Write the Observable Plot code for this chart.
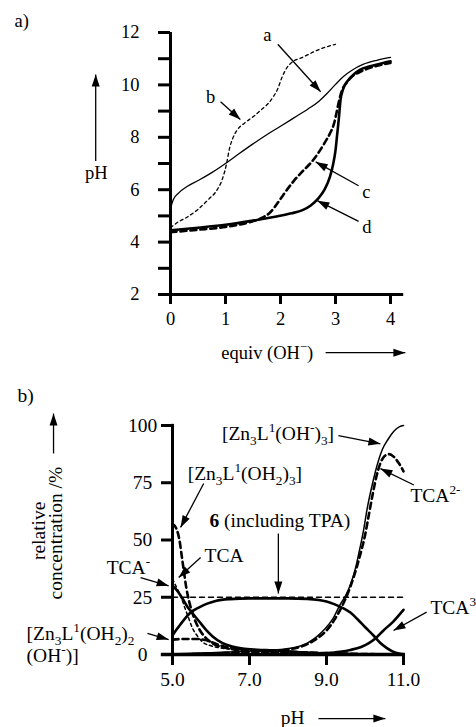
<!DOCTYPE html>
<html><head><meta charset="utf-8">
<script src="https://cdn.jsdelivr.net/npm/d3@7"></script>
<script src="https://cdn.jsdelivr.net/npm/@observablehq/plot@0.6"></script>
<style>
body{margin:0;background:#fff;}
#chart{width:476px;height:727px;overflow:hidden;position:relative;}
#chart svg{display:block;font-family:"Liberation Serif","Times New Roman",serif !important;}
#chart svg text{font-family:"Liberation Serif","Times New Roman",serif !important;}
#chart svg.pa{font-size:18.5px !important;}
#chart svg.pb{font-size:19.5px !important;}
</style></head><body><div id="chart"></div>
<script>
// ---------- Panel a: titration curves (x: equiv OH-, y: pH) ----------
const ticksAX = [0, 1, 2, 3, 4];
const ticksAY = [2, 4, 6, 8, 10, 12];
const minorAY = [3, 5, 7, 9, 11];
const curveA = [[0,5.28],[0.05,5.62],[0.15,5.88],[0.3,6.12],[0.5,6.35],[0.75,6.65],[1.0,7.0],[1.25,7.38],[1.5,7.75],[1.75,8.1],[2.0,8.42],[2.25,8.75],[2.5,9.08],[2.7,9.38],[2.85,9.68],[3.0,10.02],[3.15,10.33],[3.3,10.56],[3.5,10.78],[3.75,10.94],[4.0,11.05]];
const curveB = [[0,4.55],[0.15,4.78],[0.3,4.95],[0.5,5.25],[0.7,5.65],[0.85,6.0],[0.95,6.45],[1.02,7.0],[1.07,7.55],[1.13,7.95],[1.22,8.3],[1.35,8.55],[1.5,8.78],[1.65,9.05],[1.78,9.3],[1.87,9.55],[1.95,9.85],[2.02,10.25],[2.1,10.6],[2.2,10.85],[2.4,11.05],[2.7,11.35],[3.0,11.55]];
const curveC = [[0,4.38],[0.5,4.47],[1.0,4.58],[1.4,4.74],[1.64,4.9],[1.82,5.15],[1.95,5.5],[2.05,5.8],[2.24,6.33],[2.4,6.7],[2.55,7.02],[2.68,7.38],[2.8,7.78],[2.9,8.15],[2.97,8.5],[3.02,8.95],[3.06,9.35],[3.12,9.8],[3.2,10.08],[3.3,10.32],[3.45,10.5],[3.6,10.63],[3.8,10.75],[4.0,10.84]];
const curveD = [[0,4.45],[0.5,4.55],[1.0,4.66],[1.5,4.82],[1.9,4.97],[2.2,5.1],[2.4,5.22],[2.55,5.4],[2.68,5.65],[2.8,6.0],[2.9,6.5],[2.96,7.0],[3.0,7.5],[3.03,8.1],[3.06,8.7],[3.09,9.4],[3.14,9.85],[3.22,10.15],[3.33,10.4],[3.45,10.58],[3.65,10.72],[3.85,10.83],[4.0,10.9]];

// ---------- Panel b: species distribution (x: pH, y: relative concentration %) ----------
const ticksBX = [5, 7, 9, 11];
const ticksBY = [0, 25, 50, 75, 100];
const sTcaMinus = [[5,30],[5.1,28.3],[5.2,26],[5.3,23.3],[5.4,20.5],[5.52,18],[5.7,14.3],[5.86,11],[6.05,7.8],[6.3,5],[6.55,3.5],[6.82,2.6],[7.2,2.1],[7.6,1.8],[8,1.4],[8.5,0.8],[9,0.4],[10,0.1],[11,0]];
const sCpd6 = [[5,8.3],[5.1,10.8],[5.2,13],[5.34,16],[5.45,18],[5.55,19.3],[5.68,20.5],[5.9,22.2],[6.12,23.4],[6.5,24.2],[7,24.5],[8,24.5],[8.5,24.3],[8.8,23.8],[9.0,23.1],[9.2,22],[9.4,20.5],[9.62,18.3],[9.8,15.5],[10,12],[10.22,8.3],[10.4,5],[10.55,3],[10.7,1.5],[10.85,0.5],[11,0.1]];
const sTca = [[5,33],[5.1,29.5],[5.2,26],[5.34,19.5],[5.45,14.5],[5.52,11.5],[5.65,8],[5.78,5.5],[6.0,3.8],[6.2,3],[6.6,2.3],[7,1.8],[7.5,1.2],[8,0.6],[9,0.2],[11,0]];
const sZnOH2x3 = [[5,57],[5.1,55],[5.18,50],[5.24,43],[5.29,37],[5.36,29],[5.45,22],[5.55,16.5],[5.68,11.5],[5.85,7.5],[6.05,4.8],[6.4,2.8],[7,1.5],[8,0.6],[9,0.2],[11,0]];
const sZnOH2x2OH = [[5,6.5],[5.3,6.8],[5.6,6.8],[5.85,6.3],[6.0,5.5],[6.2,4.2],[6.5,3],[7,2],[7.5,1.5],[8,1.2],[9,0.6],[10,0.2],[11,0]];
const sZnOHx3 = [[5,0.2],[6,0.8],[6.8,1.3],[7.3,1.7],[7.8,2.2],[8.2,3.2],[8.5,5],[8.75,7.8],[8.95,11],[9.18,16],[9.36,22],[9.49,25.5],[9.62,30.5],[9.75,37.5],[9.85,45],[9.96,54],[10.06,64],[10.2,75],[10.32,83],[10.45,89.5],[10.6,94],[10.75,97.5],[10.9,99.5],[11,100]];
const sTca2 = [[5,0],[6,0.4],[7,1.1],[7.5,1.5],[8,2.2],[8.5,4.5],[8.8,7.5],[9.0,10.5],[9.2,15],[9.4,21],[9.55,26.5],[9.7,33.5],[9.85,42],[10.0,52],[10.1,61],[10.2,70],[10.3,78],[10.4,83.5],[10.5,86.5],[10.62,87.5],[10.75,86.3],[10.88,83.5],[11,80]];
const sTca3 = [[5,0],[8.5,0.2],[9,0.6],[9.35,1.2],[9.62,2],[9.9,3.3],[10.1,5],[10.27,7],[10.48,10.5],[10.74,14.5],[11,19.5]];
const sTotal6 = [[5,25],[11,25]];

const FONT = "'Liberation Serif','Times New Roman',serif";
const X = d => d[0], Y = d => d[1];
const THICK = 2.6, THIN = 1.3;

// annotations (positions in data units)
const labelsA = [
  {x: 1.76, y: 11.9, t: "a"}, {x: 0.73, y: 9.55, t: "b"},
  {x: 3.56, y: 5.92, t: "c"}, {x: 3.57, y: 4.57, t: "d"},
  {x: -1.35, y: 6.62, t: "pH"}, {x: 1.76, y: -0.22, t: "equiv (OH^{−})"}
];
const arrowsA = [
  {x1: 1.95, y1: 11.55, x2: 2.73, y2: 9.74},
  {x1: 0.91, y1: 9.36, x2: 1.27, y2: 8.68},
  {x1: 3.42, y1: 6.15, x2: 2.64, y2: 7.06},
  {x1: 3.42, y1: 4.79, x2: 2.67, y2: 5.58},
  {x1: -1.36, y1: 7.1, x2: -1.36, y2: 10.4},
  {x1: 2.82, y1: -0.22, x2: 4.27, y2: -0.22}
];
const labelsBmid = [
  {x: 7.74, y: 96.5, t: "[Zn_{3}L^{1}(OH^{-})_{3}]"},
  {x: 6.88, y: 79, t: "[Zn_{3}L^{1}(OH_{2})_{3}]"},
  {x: 7.79, y: 58.5, t: "*6* (including TPA)"},
  {x: 6.34, y: 43.2, t: "TCA"},
  {x: 8.12, y: -27.5, t: "pH"}
];
const labelsBstart = [
  {x: 3.29, y: 38, t: "TCA^{-}"},
  {x: 1.21, y: 9.2, t: "[Zn_{3}L^{1}(OH_{2})_{2}"},
  {x: 1.21, y: -0.5, t: "(OH^{-})]"},
  {x: 11.18, y: 69.4, t: "TCA^{2-}"},
  {x: 11.7, y: 20.5, t: "TCA^{3-}"}
];
const arrowsB = [
  {x1: 9.31, y1: 95.6, x2: 10.4, y2: 92},
  {x1: 5.81, y1: 74.7, x2: 5.21, y2: 55.5},
  {x1: 7.75, y1: 52.8, x2: 7.75, y2: 26.6},
  {x1: 5.73, y1: 42.4, x2: 5.16, y2: 33.6},
  {x1: 4.17, y1: 33.6, x2: 4.9, y2: 30},
  {x1: 4.35, y1: 9.2, x2: 4.9, y2: 6.5},
  {x1: 11.27, y1: 74, x2: 10.4, y2: 81.2},
  {x1: 11.6, y1: 18.5, x2: 10.74, y2: 10.5},
  {x1: 1.91, y1: 87.8, x2: 1.91, y2: 105.2},
  {x1: 8.79, y1: -28, x2: 10.53, y2: -28}
];

const plotA = Plot.plot({
  width: 476, height: 370,
  marginTop: 32, marginBottom: 76, marginLeft: 170, marginRight: 86,
  style: {fontFamily: FONT, fontSize: "18.5px", background: "white", color: "black", overflow: "visible"},
  x: {domain: [0, 4], label: null},
  y: {domain: [2, 12], label: null},
  marks: [
    Plot.axisY({ticks: ticksAY, tickSize: 12, tickPadding: 19, strokeWidth: 3, tickFormat: d => String(d), label: null}),
    Plot.axisY({ticks: minorAY, tickSize: 12, strokeWidth: 3, tickFormat: () => "", label: null}),
    Plot.axisX({ticks: ticksAX, tickSize: 10, tickPadding: 7, strokeWidth: 3, tickFormat: d => String(d), label: null}),
    Plot.ruleX([0], {y1: 2, y2: 12, strokeWidth: 3}),
    Plot.ruleY([2], {x1: -0.2, x2: 4.24, strokeWidth: 3}),
    Plot.line(curveA, {x: X, y: Y, strokeWidth: THIN, curve: "monotone-x"}),
    Plot.line(curveB, {x: X, y: Y, strokeWidth: THIN, strokeDasharray: "3,3", curve: "monotone-x"}),
    Plot.line(curveC, {x: X, y: Y, strokeWidth: THICK, strokeDasharray: "6,4", curve: "monotone-x"}),
    Plot.line(curveD, {x: X, y: Y, strokeWidth: THICK, curve: "monotone-x"}),
    Plot.link(arrowsA, {x1: "x1", y1: "y1", x2: "x2", y2: "y2", strokeWidth: 1.3, markerEnd: "arrow"}),
    Plot.text(labelsA, {x: "x", y: "y", text: "t", textAnchor: "middle", lineAnchor: "middle"}),
    Plot.text(["a)"], {frameAnchor: "top-left", dx: -156, dy: -11, textAnchor: "start", lineAnchor: "middle"})
  ]
});

const plotB = Plot.plot({
  width: 476, height: 357,
  marginTop: 55, marginBottom: 73, marginLeft: 172, marginRight: 73,
  style: {fontFamily: FONT, fontSize: "19.5px", background: "white", color: "black", overflow: "visible"},
  x: {domain: [5, 11], label: null},
  y: {domain: [0, 100], label: null},
  marks: [
    Plot.axisY({ticks: ticksBY, tickSize: 11, tickPadding: 19, textAnchor: "middle", strokeWidth: 3, tickFormat: d => String(d), label: null}),
    Plot.axisX({ticks: ticksBX, tickSize: 11, tickPadding: 7, strokeWidth: 3, tickFormat: d => d.toFixed(1), label: null}),
    Plot.ruleX([5], {y1: 0, y2: 100.5, strokeWidth: 3}),
    Plot.ruleY([0], {x1: 4.71, x2: 11.05, strokeWidth: 3.5}),
    Plot.line(sTotal6, {x: X, y: Y, strokeWidth: 1.5, strokeDasharray: "5,4"}),
    Plot.line(sTca, {x: X, y: Y, strokeWidth: THIN + 0.2, strokeDasharray: "3,3", curve: "monotone-x"}),
    Plot.line(sZnOH2x3, {x: X, y: Y, strokeWidth: THICK, strokeDasharray: "6,4", curve: "monotone-x"}),
    Plot.line(sZnOH2x2OH, {x: X, y: Y, strokeWidth: THICK, strokeDasharray: "6,4", curve: "monotone-x"}),
    Plot.line(sTca2, {x: X, y: Y, strokeWidth: THICK, strokeDasharray: "6,4", curve: "monotone-x"}),
    Plot.line(sZnOHx3, {x: X, y: Y, strokeWidth: THIN + 0.2, curve: "monotone-x"}),
    Plot.line(sTcaMinus, {x: X, y: Y, strokeWidth: THICK, curve: "monotone-x"}),
    Plot.line(sCpd6, {x: X, y: Y, strokeWidth: THICK, curve: "monotone-x"}),
    Plot.line(sTca3, {x: X, y: Y, strokeWidth: THICK, curve: "monotone-x"}),
    Plot.link(arrowsB, {x1: "x1", y1: "y1", x2: "x2", y2: "y2", strokeWidth: 1.3, markerEnd: "arrow"}),
    Plot.text(labelsBmid, {x: "x", y: "y", text: "t", textAnchor: "middle", lineAnchor: "middle"}),
    Plot.text(labelsBstart, {x: "x", y: "y", text: "t", textAnchor: "start", lineAnchor: "middle"}),
    Plot.text(["relative"], {x: 1.52, y: 54, rotate: -90, textAnchor: "middle", lineAnchor: "middle"}),
    Plot.text(["concentration /%"], {x: 1.96, y: 53, rotate: -90, textAnchor: "middle", lineAnchor: "middle"}),
    Plot.text(["b)"], {frameAnchor: "top-left", dx: -155, dy: -30, textAnchor: "start", lineAnchor: "middle"})
  ]
});

function fixMarkers(svg) {
  svg.querySelectorAll("marker").forEach(m => {
    m.setAttribute("viewBox", "-13 -6 14 12");
    m.setAttribute("markerWidth", "14");
    m.setAttribute("markerHeight", "12");
    m.setAttribute("markerUnits", "userSpaceOnUse");
    m.setAttribute("overflow", "visible");
    m.setAttribute("fill", "black");
    m.setAttribute("stroke", "none");
    m.innerHTML = "";
    const p = document.createElementNS("http://www.w3.org/2000/svg", "path");
    p.setAttribute("d", "M-12,-4L0,0L-12,4Z");
    p.setAttribute("fill", "black");
    m.appendChild(p);
  });
}

function richify(svg, fs) {
  svg.querySelectorAll("text").forEach(t => {
    const s = t.textContent;
    if (!/[_^*]/.test(s) || t.querySelector("tspan")) return;
    const segs = [];
    let bold = false, i = 0, buf = "";
    const push = (txt, shift) => { if (txt) segs.push({txt, shift, bold}); };
    while (i < s.length) {
      const c = s[i];
      if ((c === "_" || c === "^") && s[i + 1] === "{") {
        push(buf, 0); buf = "";
        const j = s.indexOf("}", i);
        push(s.slice(i + 2, j), c === "_" ? 1 : -1);
        i = j + 1;
      } else if (c === "*") {
        push(buf, 0); buf = ""; bold = !bold; i++;
      } else { buf += c; i++; }
    }
    push(buf, 0);
    t.textContent = "";
    let cur = 0;
    for (const sg of segs) {
      const target = sg.shift === 1 ? 0.28 * fs : sg.shift === -1 ? -0.4 * fs : 0;
      const ts = document.createElementNS("http://www.w3.org/2000/svg", "tspan");
      if (target !== cur) ts.setAttribute("dy", (target - cur).toFixed(2));
      cur = target;
      if (sg.shift) ts.setAttribute("style", "font-size:" + (0.68 * fs).toFixed(1) + "px");
      if (sg.bold) ts.setAttribute("font-weight", "bold");
      ts.textContent = sg.txt;
      t.appendChild(ts);
    }
  });
}

const chart = document.getElementById("chart");
[[plotA, "pa", 18.5], [plotB, "pb", 19.5]].forEach(([p, cls, fs]) => {
  p.classList.add(cls);
  p.style.fontFamily = "\"Liberation Serif\", \"Times New Roman\", serif";
  p.style.fontSize = fs + "px";
  p.querySelectorAll("text").forEach(t => {
    t.style.fontFamily = "\"Liberation Serif\", \"Times New Roman\", serif";
    t.style.fontSize = fs + "px";
  });
  chart.appendChild(p);
  fixMarkers(p);
  richify(p, fs);
});
</script>
</body></html>
